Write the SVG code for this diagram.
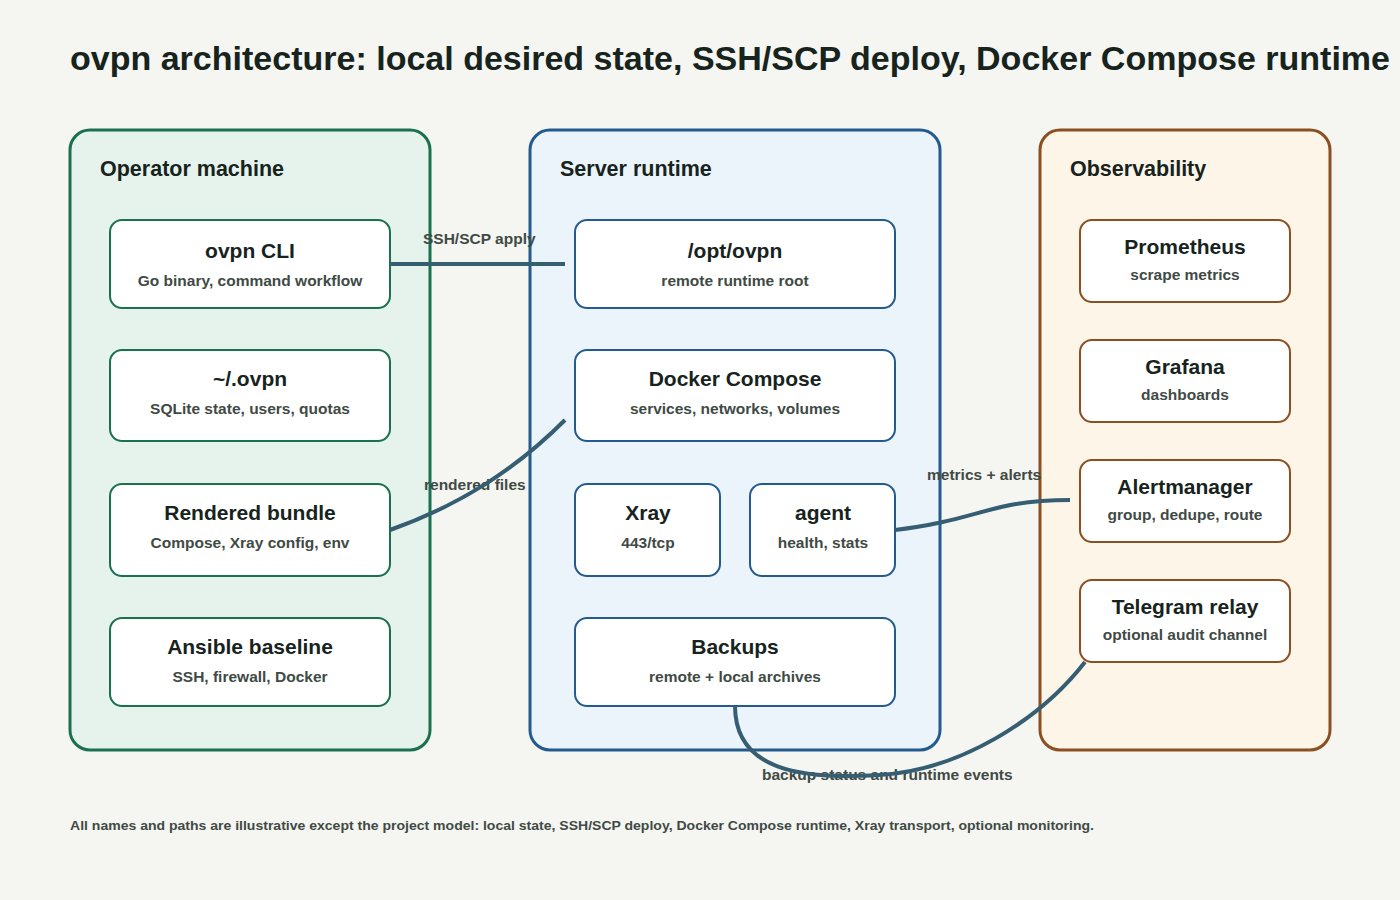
<svg xmlns="http://www.w3.org/2000/svg" width="1400" height="900" viewBox="0 0 1400 900">
<style>
text{font-family:"Liberation Sans",Arial,sans-serif;font-weight:bold}
.t{font-size:21px;fill:#17231d;text-anchor:middle}
.s{font-size:15.5px;fill:#3f4a45;text-anchor:middle}
.h{font-size:21.5px;fill:#17231d}
.l{font-size:15.5px;fill:#3f4a45}
.n{fill:#fff;stroke-width:2}
.g .n{stroke:#1b7050}.b .n{stroke:#245b8e}.o .n{stroke:#8c4f22}
.c{fill:none;stroke:#355e72;stroke-width:4}
</style>
<rect width="1400" height="900" fill="#f5f5f1"/>
<text x="70" y="70" textLength="1320" lengthAdjust="spacingAndGlyphs" style="font-size:33px;fill:#17231d">ovpn architecture: local desired state, SSH/SCP deploy, Docker Compose runtime</text>
<g id="operator" class="g"><rect x="70" y="130" width="360" height="620" rx="20" fill="#e6f3ec" stroke="#1b7050" stroke-width="3"/><text class="h" x="100" y="176">Operator machine</text></g>
<g id="server" class="b"><rect x="530" y="130" width="410" height="620" rx="20" fill="#ebf3fb" stroke="#245b8e" stroke-width="3"/><text class="h" x="560" y="176">Server runtime</text></g>
<g id="observability" class="o"><rect x="1040" y="130" width="290" height="620" rx="20" fill="#fdf6e8" stroke="#8c4f22" stroke-width="3"/><text class="h" x="1070" y="176">Observability</text></g>
<g id="cli" class="g"><rect class="n" x="110" y="220" width="280" height="88" rx="12"/><text class="t" x="250" y="258">ovpn CLI</text><text class="s" x="250" y="286">Go binary, command workflow</text></g>
<g id="state" class="g"><rect class="n" x="110" y="350" width="280" height="91" rx="12"/><text class="t" x="250" y="386">~/.ovpn</text><text class="s" x="250" y="414">SQLite state, users, quotas</text></g>
<g id="bundle" class="g"><rect class="n" x="110" y="484" width="280" height="92" rx="12"/><text class="t" x="250" y="520">Rendered bundle</text><text class="s" x="250" y="548">Compose, Xray config, env</text></g>
<g id="ansible" class="g"><rect class="n" x="110" y="618" width="280" height="88" rx="12"/><text class="t" x="250" y="654">Ansible baseline</text><text class="s" x="250" y="682">SSH, firewall, Docker</text></g>
<g id="opt" class="b"><rect class="n" x="575" y="220" width="320" height="88" rx="12"/><text class="t" x="735" y="258">/opt/ovpn</text><text class="s" x="735" y="286">remote runtime root</text></g>
<g id="compose" class="b"><rect class="n" x="575" y="350" width="320" height="91" rx="12"/><text class="t" x="735" y="386">Docker Compose</text><text class="s" x="735" y="414">services, networks, volumes</text></g>
<g id="xray" class="b"><rect class="n" x="575" y="484" width="145" height="92" rx="12"/><text class="t" x="648" y="520">Xray</text><text class="s" x="648" y="548">443/tcp</text></g>
<g id="agent" class="b"><rect class="n" x="750" y="484" width="145" height="92" rx="12"/><text class="t" x="823" y="520">agent</text><text class="s" x="823" y="548">health, stats</text></g>
<g id="backups" class="b"><rect class="n" x="575" y="618" width="320" height="88" rx="12"/><text class="t" x="735" y="654">Backups</text><text class="s" x="735" y="682">remote + local archives</text></g>
<g id="prom" class="o"><rect class="n" x="1080" y="220" width="210" height="82" rx="12"/><text class="t" x="1185" y="254">Prometheus</text><text class="s" x="1185" y="280">scrape metrics</text></g>
<g id="grafana" class="o"><rect class="n" x="1080" y="340" width="210" height="82" rx="12"/><text class="t" x="1185" y="374">Grafana</text><text class="s" x="1185" y="400">dashboards</text></g>
<g id="alert" class="o"><rect class="n" x="1080" y="460" width="210" height="82" rx="12"/><text class="t" x="1185" y="494">Alertmanager</text><text class="s" x="1185" y="520">group, dedupe, route</text></g>
<g id="telegram" class="o"><rect class="n" x="1080" y="580" width="210" height="82" rx="12"/><text class="t" x="1185" y="614">Telegram relay</text><text class="s" x="1185" y="640">optional audit channel</text></g>
<g id="connectors">
<text class="l" x="423" y="244">SSH/SCP apply</text>
<text class="l" x="424" y="490">rendered files</text>
<text class="l" x="927" y="480">metrics + alerts</text>
<text class="l" x="762" y="780">backup status and runtime events</text>
<path class="c" d="M390 264 H565"/>
<path class="c" d="M390 530 C460 505 515 470 565 420"/>
<path class="c" d="M895 530 C980 520 990 500 1070 500"/>
<path class="c" d="M735 706 C735 770 800 780 880 775 C960 770 1040 720 1085 662"/>
</g>
<text x="70" y="830" textLength="1024" lengthAdjust="spacingAndGlyphs" style="font-size:13px;fill:#3f4a45">All names and paths are illustrative except the project model: local state, SSH/SCP deploy, Docker Compose runtime, Xray transport, optional monitoring.</text>
</svg>
